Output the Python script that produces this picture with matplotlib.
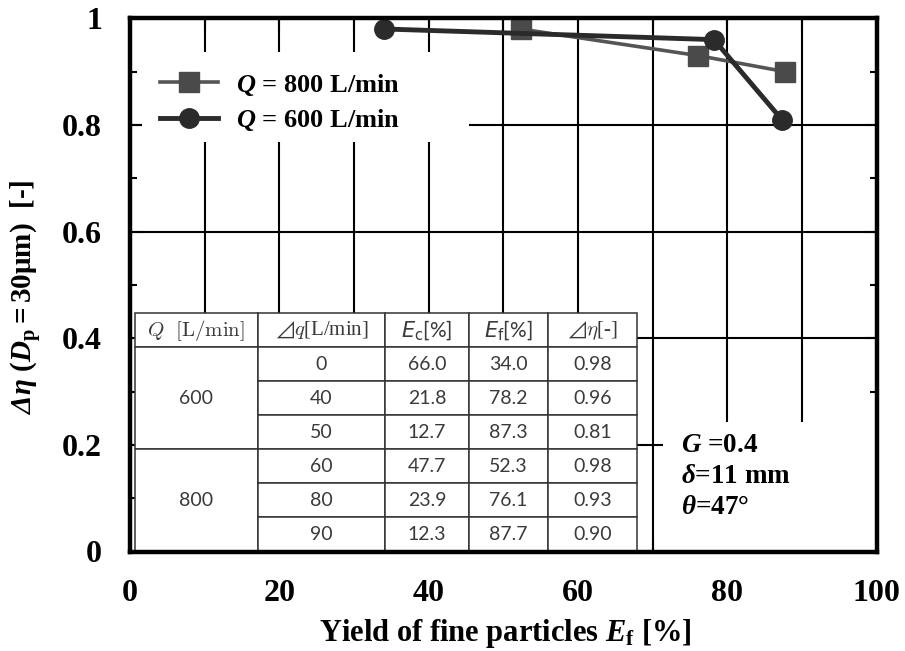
import numpy as np
import matplotlib.pyplot as plt
from matplotlib.patches import Rectangle
from matplotlib.ticker import MultipleLocator

plt.rcParams['font.family'] = ['Liberation Serif', 'DejaVu Serif']
plt.rcParams['mathtext.fontset'] = 'custom'
plt.rcParams['mathtext.rm'] = 'Liberation Serif:bold'
plt.rcParams['mathtext.it'] = 'Liberation Serif:italic:bold'
plt.rcParams['mathtext.bf'] = 'Liberation Serif:bold'
# sf slot reused for slanted greek letters
plt.rcParams['mathtext.sf'] = 'Liberation Serif:italic:bold'

# Q = 600 L/min
dq_600 = [0, 40, 50]
ec_600 = [66.0, 21.8, 12.7]
ef_600 = [34.0, 78.2, 87.3]
deta_600 = [0.98, 0.96, 0.81]

# Q = 800 L/min
dq_800 = [60, 80, 90]
ec_800 = [47.7, 23.9, 12.3]
ef_800 = [52.3, 76.1, 87.7]
deta_800 = [0.98, 0.93, 0.90]

flows = [600, 800]
col_labels = [r'$Q\ \ [\mathrm{L/min}]$', r'$⊿q$[L/min]', r'$E_{\mathrm{c}}$[%]',
              r'$E_{\mathrm{f}}$[%]', r'$⊿\eta$[-]']
xticks = [0, 20, 40, 60, 80, 100]
yticks = [0, 0.2, 0.4, 0.6, 0.8, 1.0]
ytick_labels = ['0', '0.2', '0.4', '0.6', '0.8', '1']
conditions = ['$G$ =0.4', r'$\mathsf{δ}$=11 mm', r'$\mathsf{θ}$=47°']

W, H = 905, 651
fig = plt.figure(figsize=(W / 100, H / 100), dpi=100)
ax = fig.add_axes([130 / W, 1 - 551.5 / H, 746.7 / W, 533.2 / H])
ax.set_xlim(0, 100)
ax.set_ylim(0, 1)

# grid drawn by hand so the white boxes can hide it but not the ticks
ax.vlines(np.arange(10, 100, 10), 0, 1, color='k', lw=1.5, zorder=1)
ax.hlines(np.arange(0.2, 1.0, 0.2), 0, 100, color='k', lw=1.5, zorder=1)

ax.add_patch(Rectangle((0.016, 0.768), 0.438, 0.169, transform=ax.transAxes,
                       facecolor='white', edgecolor='none', zorder=2))
ax.add_patch(Rectangle((0.714, 0.0), 0.286, 0.243, transform=ax.transAxes,
                       facecolor='white', edgecolor='none', zorder=2))
tbl_box = [0.0067, 0.0, 0.672, 0.4465]
ax.add_patch(Rectangle(tbl_box[:2], tbl_box[2], tbl_box[3], transform=ax.transAxes,
                       facecolor='white', edgecolor='none', zorder=2.8))

ax.plot(ef_800, deta_800, '-s', color='#555555', mfc='#4a4a4a', mec='#4a4a4a',
        lw=2.6, ms=14, label='$Q$ = 800 L/min', zorder=4)
ax.plot(ef_600, deta_600, '-o', color='#2b2b2b', mfc='#2b2b2b', mec='#2b2b2b',
        lw=3.5, ms=14, label='$Q$ = 600 L/min', zorder=5)

leg = ax.legend(loc='upper left', bbox_to_anchor=(0.04, 0.9), frameon=False,
                prop={'size': 19, 'weight': 'bold'}, handlelength=2.2,
                handletextpad=0.7, labelspacing=0.36, borderpad=0, borderaxespad=0)
leg.set_zorder(6)

ax.set_xticks(xticks)
ax.set_yticks(yticks)
ax.set_yticklabels(ytick_labels)
ax.xaxis.set_minor_locator(MultipleLocator(10))
ax.yaxis.set_minor_locator(MultipleLocator(0.1))
ax.tick_params(axis='both', which='both', direction='in', right=True, top=True,
               width=1.5, labelsize=23, color='k')
ax.tick_params(axis='x', which='both', length=9, pad=20)
ax.tick_params(axis='y', which='major', length=9, pad=20)
ax.tick_params(axis='y', which='minor', length=5)
for lab in ax.get_xticklabels() + ax.get_yticklabels():
    lab.set_fontweight('bold')
for sp in ax.spines.values():
    sp.set_linewidth(3.2)
    sp.set_zorder(7)

# summary table of the runs
rows = []
groups = [(dq_600, ec_600, ef_600, deta_600), (dq_800, ec_800, ef_800, deta_800)]
for flow, (dq, ec, ef, de) in zip(flows, groups):
    for i in range(len(dq)):
        rows.append([str(flow) if i == 1 else '', str(dq[i]), f'{ec[i]:.1f}',
                     f'{ef[i]:.1f}', f'{de[i]:.2f}'])

widths = np.array([122.7, 127.3, 84, 79, 88.7])
tbl = ax.table(cellText=rows, colLabels=col_labels, colWidths=list(widths / widths.sum()),
               cellLoc='center', bbox=tbl_box)
tbl.auto_set_font_size(False)
tbl.set_zorder(3)
for (r, c), cell in tbl.get_celld().items():
    cell.set_edgecolor('#333333')
    cell.set_linewidth(1.1)
    cell.set_facecolor('white')
    t = cell.get_text()
    t.set_fontweight('normal')
    t.set_color('#3a3a3a')
    if r == 0:
        t.set_fontsize(15)
        if c in (2, 3):
            t.set_fontfamily(['Lato', 'DejaVu Sans'])
            t.set_math_fontfamily('dejavusans')
        else:
            t.set_fontfamily(['Liberation Serif', 'DejaVu Sans'])
            t.set_math_fontfamily('cm')
    else:
        t.set_fontsize(14)
        t.set_fontfamily(['Lato', 'DejaVu Sans'])
        if c == 0:
            k = (r - 1) % 3
            cell.visible_edges = ['LRT', 'LR', 'LRB'][k]

ax.text(0.738, 0.222, '\n'.join(conditions), transform=ax.transAxes, fontsize=19.5,
        fontweight='bold', ha='left', va='top', linespacing=1.32, zorder=6)

fig.text(27 / W, 1 - 297 / H, r'$\mathsf{Δη}\ (D_{\mathrm{p}} = 30\mathrm{μm})$  [-]',
         rotation=90, ha='center', va='center', fontsize=21, fontweight='bold')
fig.text(505 / W, 1 - 641.5 / H, r'Yield of fine particles $E_{\mathrm{f}}$ [%]',
         ha='center', va='baseline', fontsize=22, fontweight='bold')

fig.savefig('out.png', dpi=100)
